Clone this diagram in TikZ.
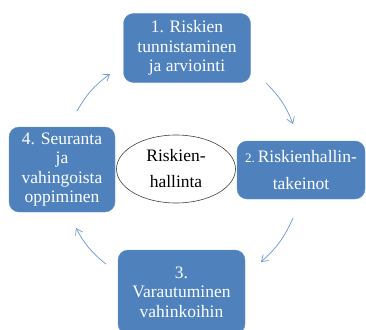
\documentclass[tikz,border=0pt]{standalone}
\usepackage{fontspec}
\setmainfont{Liberation Serif}
\usetikzlibrary{shapes.geometric,arrows.meta}
\definecolor{boxblue}{RGB}{79,129,189}
\definecolor{arrowblue}{RGB}{108,150,206}
\tikzset{
  stagebox/.style={rectangle,rounded corners=10pt,fill=boxblue,draw=boxblue!85!white,
    text=white,align=center,inner sep=0pt,font=\fontsize{17.5}{19.5}\selectfont},
  cyclearrow/.style={-{Straight Barb[length=6pt,width=8pt]},draw=arrowblue,line width=0.7pt}
}
\begin{document}
\begin{tikzpicture}[x=1pt,y=-1pt]
        \useasboundingbox (0,0) rectangle (366,329);
        \node[stagebox,minimum width=127pt,minimum height=69pt] at (187,48) (S1)
          {1. Riskien\\tunnistaminen\\ja arviointi};
        \node[stagebox,minimum width=128pt,minimum height=58pt,
          font=\fontsize{17.5}{27}\selectfont] at (301,170) (S2)
          {{\fontsize{13}{13}\selectfont 2.}\,Riskienhallin-\\takeinot};
        \node[stagebox,minimum width=127pt,minimum height=84pt] at (181.5,292) (S3)
          {3.\\Varautuminen\\vahinkoihin};
        \node[stagebox,minimum width=106pt,minimum height=85pt] at (62,169.5) (S4)
          {4. Seuranta\\ja\\vahingoista\\oppiminen};
        \node[ellipse,draw=black!75,line width=0.6pt,minimum width=119pt,minimum height=68pt,
          inner sep=0pt,align=center,font=\fontsize{17.5}{26}\selectfont] at (176,169) (core)
          {Riskien-\\hallinta};
        \coordinate (a1s) at (77,111);  \coordinate (a1e) at (110,74);
        \coordinate (a2s) at (266,83);  \coordinate (a2e) at (293,124);
        \coordinate (a3s) at (293,218); \coordinate (a3e) at (261,262);
        \coordinate (a4s) at (106,264); \coordinate (a4e) at (76,228);
        \draw[cyclearrow] (a1s) to[bend left=12] (a1e);
        \draw[cyclearrow] (a2s) to[bend left=12] (a2e);
        \draw[cyclearrow] (a3s) to[bend left=12] (a3e);
        \draw[cyclearrow] (a4s) to[bend left=12] (a4e);
      \end{tikzpicture}
\end{document}
